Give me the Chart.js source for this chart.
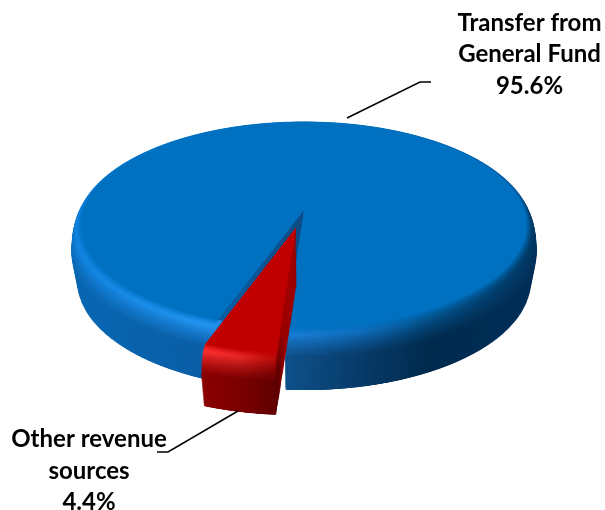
<!DOCTYPE html>
<html>
<head>
<meta charset="utf-8">
<script src="https://cdn.jsdelivr.net/npm/chart.js@4"></script>
<style>
  html, body { margin: 0; padding: 0; background: #fff; }
  canvas { display: block; }
</style>
</head>
<body>
<canvas id="pie" width="605" height="510"></canvas>
<script>
// chart values
const categories = ['Transfer from General Fund', 'Other revenue sources'];
const categoryLines = [['Transfer from', 'General Fund'], ['Other revenue', 'sources']];
const values = [95.6, 4.4];
const sliceColors = ['#0070c0', '#c00000'];
const explode = [0, 0.176];

// label placement: centre x, first baseline y
const labelPos = [[529.5, 30.5], [89, 447]];
const leaders = [
  [[347, 118], [420, 82], [431, 82]],
  [[238, 411], [168, 452], [157, 452]]
];

// shading by x position: [x, side colour, highlight colour]
const shadeStops = [
  [[72, '#0b68b4', '#1184df'], [130, '#0a63ad', '#1a8de8'], [210, '#0a5fa6', '#2596f4'], [290, '#0e4f88', '#1a7fd6'],
   [360, '#083c6b', '#0e6fbe'], [430, '#012b4e', '#04558f'], [537, '#02305a', '#013a66']],
  [[203, '#8a0000', '#ff3030'], [240, '#7c0000', '#e82828'], [277, '#600000', '#b80808'], [284, '#a00000', '#a00000'], [300, '#a00000', '#a00000']]
];

// fake 3D: perspective of the flat pie, see warp()
const PERSP = 0.146, SQUASH = 100.8;
const RIM = 1.045, BEVEL_DROP = 24, DEPTH = 56, BEVEL_STEPS = 18, WALL_SHRINK = 0.028;
const FLAT_SIZE = 1200, FLAT_R = 400, FLAT_C = 600;
const W = 605, H = 510;

function newCanvas(w, h) {
  const c = document.createElement('canvas');
  c.width = w; c.height = h;
  return c;
}

function hex(c) {
  return [1, 3, 5].map(i => parseInt(c.substr(i, 2), 16));
}

function mix(a, b, t) {
  const p = hex(a), q = hex(b);
  return 'rgb(' + p.map((v, i) => Math.round(v + (q[i] - v) * t)).join(',') + ')';
}

// paints the flat pie row by row with a vanishing point
function warp(flat, arc) {
  const out = newCanvas(W, H), o = out.getContext('2d');
  const toV = y => { const d = y - arc.y; return d / (SQUASH + PERSP * d); };
  for (let y = 0; y < H; y++) {
    const v1 = toV(y), v2 = toV(y + 1);
    if (Math.abs(v1) > 1.45 || Math.abs(v2) > 1.45) continue;
    const s = 1 / (1 - PERSP * (v1 + v2) / 2);
    const dw = FLAT_SIZE / FLAT_R * arc.outerRadius * s;
    o.drawImage(flat, 0, FLAT_C + v1 * FLAT_R, FLAT_SIZE, (v2 - v1) * FLAT_R, arc.x - dw / 2, y, dw, 1);
  }
  return out;
}

function silhouette(arc, k, shift) {
  const flat = newCanvas(FLAT_SIZE, FLAT_SIZE), f = flat.getContext('2d');
  const half = (arc.startAngle + arc.endAngle) / 2;
  const sc = FLAT_R / arc.outerRadius;
  const ex = shift * FLAT_R;
  f.translate(FLAT_C + Math.cos(half) * ex, FLAT_C + Math.sin(half) * ex);
  f.scale(sc * k, sc * k);
  f.translate(-arc.x, -arc.y);
  arc.draw(f);
  return warp(flat, arc);
}

function tint(canvas, stops, colorAt) {
  const c = canvas.getContext('2d');
  const x0 = stops[0][0], x1 = stops[stops.length - 1][0];
  const g = c.createLinearGradient(x0, 0, x1, 0);
  stops.forEach(s => g.addColorStop((s[0] - x0) / (x1 - x0), colorAt(s)));
  c.globalCompositeOperation = 'source-in';
  c.fillStyle = g;
  c.fillRect(0, 0, W, H);
  c.globalCompositeOperation = 'source-over';
  return canvas;
}

const pie3d = {
  id: 'pie3d',
  beforeDatasetsDraw(chart) {
    const ctx = chart.ctx;
    const arcs = chart.getDatasetMeta(0).data;
    arcs.forEach((arc, i) => {
      const stops = shadeStops[i], face = sliceColors[i];
      // wall, narrowing a little as it goes down
      const wall = tint(silhouette(arc, RIM, explode[i]), stops, s => s[1]);
      for (let d = DEPTH; d >= BEVEL_DROP; d--) {
        const f = 1 - WALL_SHRINK * (d - BEVEL_DROP) / (DEPTH - BEVEL_DROP);
        ctx.drawImage(wall, arc.x * (1 - f), d, W * f, H);
      }
      // rounded edge, outermost first
      for (let n = BEVEL_STEPS; n >= 1; n--) {
        const t = n / BEVEL_STEPS;
        const k = 1 + (RIM - 1) * Math.sin(t * Math.PI / 2);
        const layer = tint(silhouette(arc, k, explode[i]), stops, s =>
          t < 0.4 ? mix(face, s[2], t / 0.4) : mix(s[2], s[1], (t - 0.4) / 0.6));
        ctx.drawImage(layer, 0, BEVEL_DROP * t * t);
      }
      // the cut face of the big slice shows flat wall colour, not the rounded edge
      if (i === 0) {
        const strip = newCanvas(W, H), c = strip.getContext('2d');
        const inner = tint(silhouette(arc, 1, 0), stops, s => s[1]);
        for (let d = BEVEL_DROP; d >= 0; d--) c.drawImage(inner, 0, d);
        c.globalCompositeOperation = 'destination-in';
        c.drawImage(silhouette(arcs[1], 1, 0), 0, 0);
        ctx.drawImage(strip, 0, 0);
      }
      // flat top
      ctx.drawImage(silhouette(arc, 1, explode[i]), 0, 0);
    });
    return false;
  },
  afterDraw(chart) {
    const ctx = chart.ctx;
    ctx.save();
    ctx.strokeStyle = '#000';
    ctx.lineWidth = 1.5;
    leaders.forEach(pts => {
      ctx.beginPath();
      pts.forEach((p, i) => i ? ctx.lineTo(p[0], p[1]) : ctx.moveTo(p[0], p[1]));
      ctx.stroke();
    });
    ctx.fillStyle = '#000';
    ctx.font = 'bold 24px Lato, "Open Sans", sans-serif';
    ctx.textAlign = 'center';
    values.forEach((v, i) => {
      const lines = categoryLines[i].concat(v.toFixed(1) + '%');
      lines.forEach((txt, n) => ctx.fillText(txt, labelPos[i][0], labelPos[i][1] + n * 31.5));
    });
    ctx.restore();
  }
};

new Chart(document.getElementById('pie'), {
  type: 'pie',
  data: {
    labels: categories,
    datasets: [{ data: values, backgroundColor: sliceColors, borderWidth: 0, radius: 220 }]
  },
  options: {
    responsive: false,
    animation: false,
    rotation: 199.8,
    layout: { padding: { left: 3, bottom: 90 } },
    plugins: { legend: { display: false }, tooltip: { enabled: false } }
  },
  plugins: [pie3d]
});
</script>
</body>
</html>
